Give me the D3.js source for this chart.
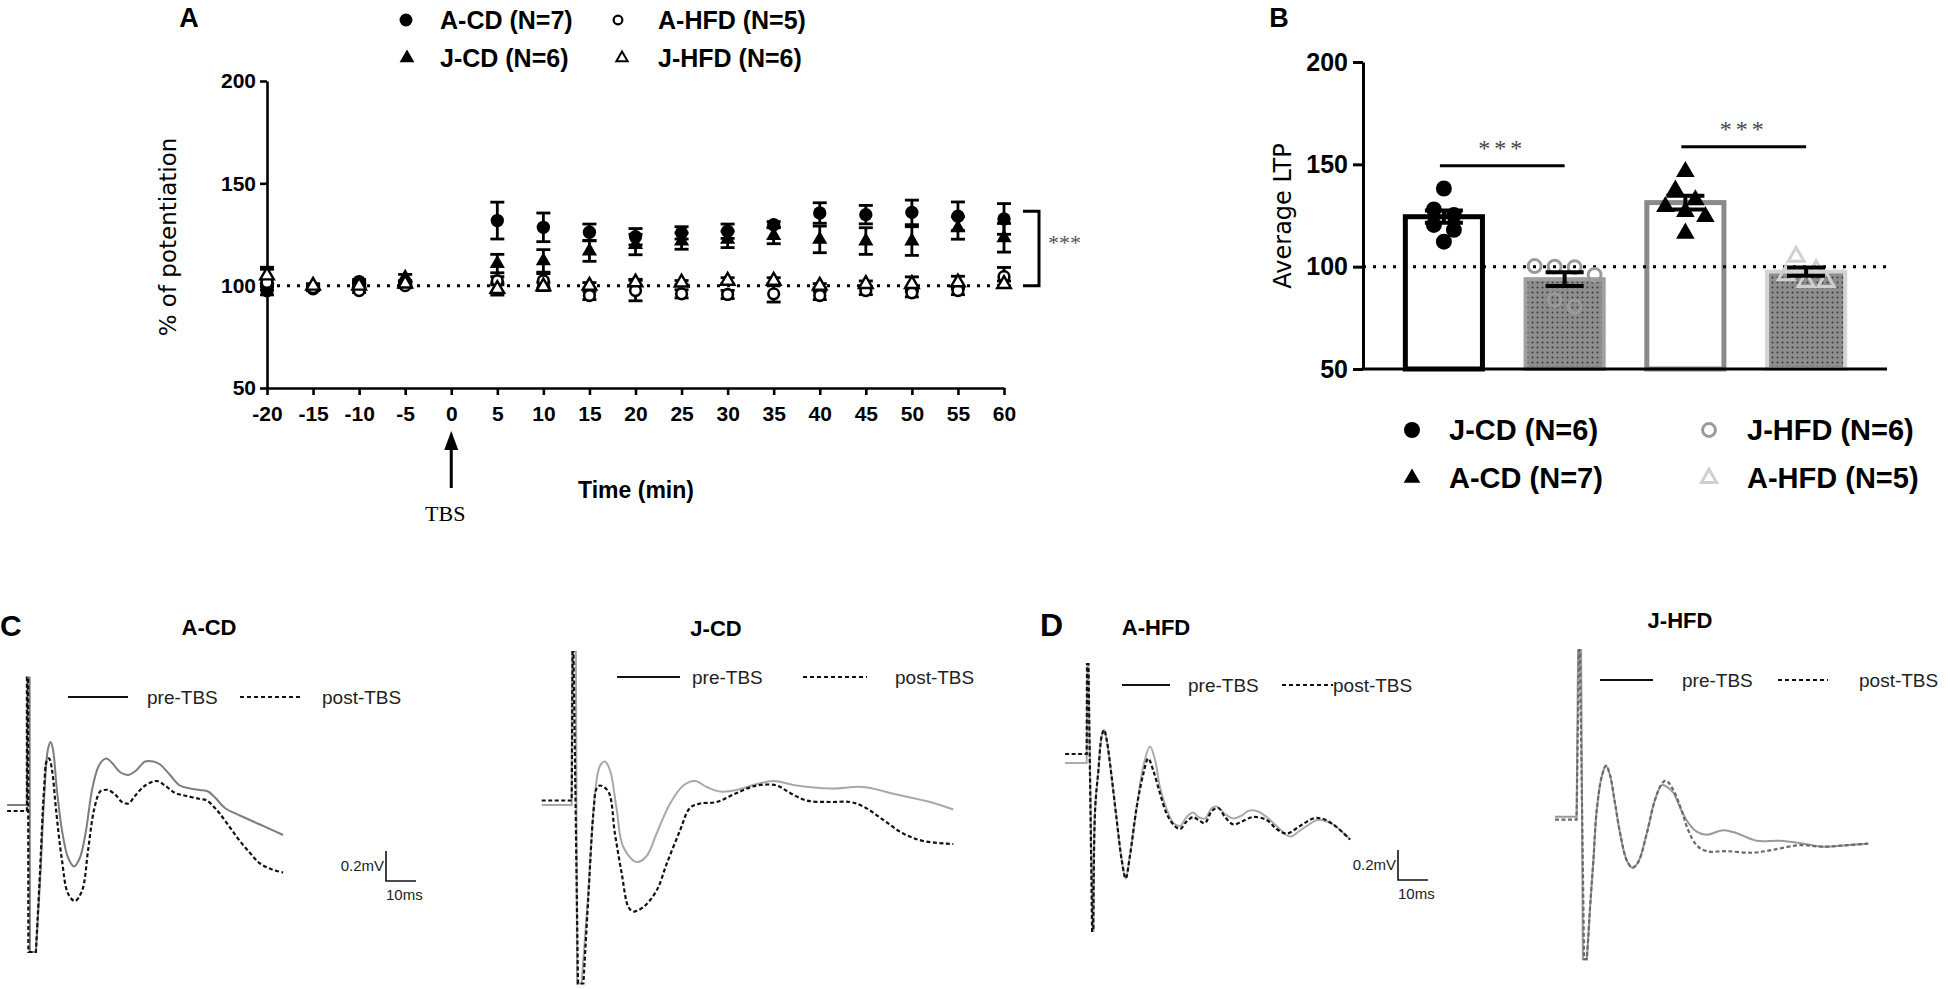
<!DOCTYPE html>
<html>
<head>
<meta charset="utf-8">
<script src="https://cdn.jsdelivr.net/npm/d3@7"></script>
<style>
  body { margin: 0; background: #fff; }
</style>
</head>
<body>
<svg id="fig" width="1950" height="989" font-family="'Liberation Sans', Arial, sans-serif"></svg>
<script>
// ---------- PANEL A : time course ----------
const timesA = [-20, -15, -10, -5, 5, 10, 15, 20, 25, 30, 35, 40, 45, 50, 55, 60];
const xTicksA = [-20, -15, -10, -5, 0, 5, 10, 15, 20, 25, 30, 35, 40, 45, 50, 55, 60];
const yTicksA = [50, 100, 150, 200];

const acdMean = [97.5, 98.5, 102, 100.5, 131.8, 128.5, 126.1, 123.9, 125.8, 126.6, 129.8, 135.5, 134.7, 135.8, 133.9, 132.6];
const acdSem  = [2, 1, 1, 1, 9, 7, 4, 4, 3, 3.5, 1.5, 5, 4.5, 6, 7, 7.5];
const jcdMean = [103, 99.5, 101, 104, 110.8, 112.1, 116.9, 120.1, 121.8, 122.6, 124.5, 122.6, 121.8, 121.8, 128.2, 123.4];
const jcdSem  = [5, 1, 1, 1.5, 4.5, 5.5, 5, 5, 4, 4, 4, 6.5, 6.5, 7, 5.5, 7];
const ahfdMean = [101.6, 99, 97.6, 100, 102.4, 102.4, 95.2, 97.6, 96, 95.7, 96, 95.2, 97.6, 96.5, 97.6, 104.4];
const ahfdSem  = [1.5, 1, 1, 1, 2, 3.5, 2, 5, 2, 2, 4, 2, 2, 2, 2, 4.5];
const jhfdMean = [105, 100, 100, 101, 98.4, 99.6, 100, 101.6, 101.5, 102.4, 102.4, 100, 100.8, 100.8, 101.6, 100.8];
const jhfdSem  = [4, 1, 1, 1, 3, 2, 1.5, 1.5, 1, 1.5, 1.5, 1, 1.5, 3.5, 3, 1.5];

const legendA = ["A-CD (N=7)", "A-HFD (N=5)", "J-CD (N=6)", "J-HFD (N=6)"];

// ---------- PANEL B : average LTP ----------
const groupsB = ["J-CD", "J-HFD", "A-CD", "A-HFD"];
const ltpMean = [124.4, 93.9, 131.3, 97.6];
const ltpSem  = [3.0, 3.4, 3.4, 2.0];
const jcdPts  = [138.2, 128, 125.2, 120.4, 118, 112.2];
const jhfdPts = [100.3, 100, 99.8, 96, 83.8, 80.5];
const acdPts  = [146.4, 137.4, 132.6, 129.3, 126.9, 124.4, 116.3];
const ahfdPts = [104.9, 98.4, 95.9, 92.6, 92.6];
const sigPairs = [[0, 1], [2, 3]];
const sigLevels = [149.3, 158.6];
const legendB = ["J-CD (N=6)", "J-HFD (N=6)", "A-CD (N=7)", "A-HFD (N=5)"];

// ---------- PANELS C / D : fEPSP traces [ms, mV] ----------
const acdPre = [[-7.3,0],[-0.7,0],[-0.5,0.85],[0.2,0.85],[0.3,-0.98],[2.3,-0.98],[3.7,-0.5],[5,0.03],[6.3,0.37],[7.2,0.42],[8,0.37],[9.3,0.1],[11,-0.17],[13,-0.35],[15,-0.41],[17,-0.35],[19,-0.17],[21,0.1],[23,0.25],[24.7,0.3],[25.9,0.31],[27.7,0.28],[30.3,0.22],[33.1,0.2],[35.7,0.23],[38.7,0.29],[41.4,0.29],[43.7,0.27],[47,0.2],[50.3,0.13],[53.7,0.11],[57,0.1],[59.7,0.09],[62,0.05],[65.3,-0.02],[70.3,-0.07],[77,-0.13],[84.7,-0.2]];
const acdPost = [[-7.3,-0.04],[-0.7,-0.04],[-0.7,0.85],[-0.3,0.85],[-0.2,-0.98],[2.3,-0.98],[3.7,-0.43],[5,0.1],[6,0.3],[6.7,0.31],[7.7,0.23],[9,-0.03],[11,-0.37],[13,-0.59],[15.3,-0.64],[17.7,-0.57],[19.7,-0.3],[21.7,-0.03],[23.7,0.09],[25,0.1],[26.4,0.1],[28.7,0.07],[31,0.02],[33.1,0.01],[35.3,0.06],[38.7,0.13],[42.6,0.16],[45.3,0.13],[48.7,0.08],[52.6,0.06],[57,0.04],[59.3,0.03],[62,-0.02],[63.7,-0.06],[67,-0.15],[70.3,-0.24],[73.7,-0.32],[77,-0.39],[81,-0.43],[84.7,-0.45]];
const jcdPre = [[-11.1,0],[-1.1,0],[-1,1.02],[0.3,1.02],[0.7,-1.19],[2.2,-1.19],[4.4,-0.59],[6.7,0.08],[8.3,0.26],[10,0.29],[11.7,0.23],[13.9,-0.03],[16.1,-0.28],[20.6,-0.38],[23.9,-0.34],[27.2,-0.19],[31.7,0.01],[36.1,0.13],[40,0.16],[43.9,0.12],[48.3,0.09],[53.9,0.1],[60.6,0.14],[66.1,0.16],[73.9,0.13],[85,0.11],[96.1,0.12],[107.2,0.07],[118.3,0.02],[126.1,-0.03]];
const jcdPost = [[-11.1,0.03],[-1.1,0.03],[-0.8,1.02],[-0.5,1.02],[1,-1.19],[2.8,-1.19],[4.4,-0.63],[6.1,-0.06],[7.2,0.11],[8.3,0.13],[11.1,0.09],[13.3,-0.19],[15.6,-0.46],[17.8,-0.68],[19.4,-0.71],[22.8,-0.68],[27.2,-0.57],[30.6,-0.39],[35,-0.17],[38.3,-0.02],[41.7,0.01],[47.2,0.02],[53.9,0.08],[60.6,0.13],[67.2,0.13],[71.7,0.08],[77.2,0.03],[85,0.02],[91.7,0.02],[96.1,-0.01],[102.8,-0.1],[109.4,-0.19],[116.1,-0.24],[126.1,-0.26]];
const ahfdPre = [[-8.3,0],[-1.1,0],[-0.9,0.66],[-0.6,0.66],[0.9,-1.12],[1.2,-1.12],[1.7,-0.31],[2.8,-0.05],[3.9,0.18],[4.7,0.22],[5.6,0.15],[7.2,-0.09],[8.9,-0.38],[10.6,-0.65],[11.9,-0.77],[13.3,-0.62],[15.6,-0.29],[17.8,-0.02],[20,0.11],[21.7,0.02],[23.3,-0.16],[25.6,-0.31],[27.8,-0.4],[30,-0.42],[32.2,-0.36],[34.4,-0.33],[36.1,-0.36],[38.3,-0.37],[40.6,-0.3],[42.2,-0.29],[45,-0.34],[47.8,-0.37],[50.6,-0.35],[52.7,-0.32],[55.6,-0.32],[58.9,-0.36],[62.2,-0.42],[66.7,-0.49],[70,-0.45],[75.6,-0.38],[77.2,-0.38],[81.1,-0.41],[86.7,-0.51]];
const ahfdPost = [[-8.3,0.06],[-1.1,0.06],[-1,0.66],[-0.5,0.66],[0.7,-1.12],[1.1,-1.12],[1.7,-0.31],[2.8,-0.05],[3.9,0.18],[4.7,0.22],[5.6,0.15],[7.2,-0.09],[8.9,-0.38],[10.6,-0.65],[11.9,-0.77],[13.3,-0.62],[15.6,-0.29],[17.8,-0.07],[19.4,0.03],[21.1,-0.05],[23.3,-0.2],[25.6,-0.34],[27.8,-0.41],[30,-0.44],[32.2,-0.39],[34.4,-0.36],[36.1,-0.38],[38.3,-0.4],[40.6,-0.32],[42.8,-0.3],[45,-0.36],[47.8,-0.41],[50.6,-0.39],[54.4,-0.36],[58.9,-0.38],[62.2,-0.44],[65.6,-0.47],[70,-0.42],[74.4,-0.37],[77.2,-0.37],[81.1,-0.41],[86.7,-0.51]];
const jhfdPre = [[-9,0],[-1.8,0],[-1.3,1.11],[-0.3,1.11],[0.3,-0.95],[1.6,-0.95],[2.1,-0.8],[2.7,-0.6],[3.8,-0.29],[4.9,0.04],[6.6,0.27],[8,0.34],[9.3,0.28],[11,0.09],[12.7,-0.11],[14.9,-0.29],[16.8,-0.34],[18.8,-0.3],[21.6,-0.11],[24.3,0.11],[26.6,0.21],[28.2,0.2],[30.4,0.16],[33.2,0.04],[35.4,-0.04],[38.2,-0.1],[41.6,-0.12],[47.1,-0.09],[51.6,-0.11],[58.2,-0.16],[66,-0.16],[73.8,-0.18],[80.4,-0.2],[88.2,-0.19],[95.4,-0.18]];
const jhfdPost = [[-9,-0.02],[-1.8,-0.02],[-1,1.11],[-0.7,1.11],[0.7,-0.95],[1.6,-0.95],[2.1,-0.8],[2.7,-0.6],[3.8,-0.29],[4.9,0.04],[6.6,0.27],[8,0.34],[9.3,0.28],[11,0.09],[12.7,-0.11],[14.9,-0.29],[16.8,-0.34],[18.8,-0.3],[21.6,-0.11],[24.3,0.11],[26.6,0.22],[28,0.24],[30.4,0.18],[33.2,0.04],[35.4,-0.09],[38.2,-0.19],[41.6,-0.23],[48.2,-0.23],[57.1,-0.24],[63.8,-0.22],[72.7,-0.19],[80.4,-0.2],[88.2,-0.19],[95.4,-0.18]];
const traceTitles = ["A-CD", "J-CD", "A-HFD", "J-HFD"];
const scaleBarMV = 0.2, scaleBarMS = 10;

const SANS = "'Liberation Sans', Arial, sans-serif";
const SERIF = "'Liberation Serif', 'Times New Roman', serif";
const DEJAVU = "'DejaVu Sans', Verdana, sans-serif";

const svg = d3.select("#fig");

// -----------------------------
//  PANEL A
// -----------------------------
const xA = d3.scaleLinear().domain([-20, 60]).range([267, 1004]);
const yA = d3.scaleLinear().domain([50, 200]).range([388, 81]);
const gA = svg.append("g");

gA.append("text").attr("x", 189).attr("y", 27).attr("text-anchor", "middle")
  .attr("font-size", 27).attr("font-weight", "bold").text("A");

const axA = gA.append("g").attr("transform", "translate(267,0)")
  .call(d3.axisLeft(yA).tickValues(yTicksA).tickSize(7).tickPadding(4).tickSizeOuter(0));
const axXA = gA.append("g").attr("transform", "translate(0,388)")
  .call(d3.axisBottom(xA).tickValues(xTicksA).tickFormat(d => String(d))
    .tickSize(7).tickPadding(11).tickSizeOuter(0));
[axA, axXA].forEach(a => {
  a.attr("font-family", SANS);
  a.selectAll("path,line").attr("stroke", "#000").attr("stroke-width", 2.6);
  a.selectAll("text").attr("font-size", 21).attr("font-weight", "bold").attr("fill", "#000");
});

gA.append("text").attr("transform", "translate(176,237) rotate(-90)")
  .attr("text-anchor", "middle").attr("font-size", 23)
  .attr("font-family", DEJAVU).text("% of potentiation");
gA.append("text").attr("x", 636).attr("y", 498).attr("text-anchor", "middle")
  .attr("font-size", 23).attr("font-weight", "bold").text("Time (min)");

// TBS arrow
gA.append("line").attr("x1", xA(0)).attr("x2", xA(0)).attr("y1", 488).attr("y2", 445)
  .attr("stroke", "#000").attr("stroke-width", 3);
gA.append("path").attr("d", `M${xA(0)},431 L${xA(0) - 7},450 L${xA(0) + 7},450 Z`).attr("fill", "#000");
gA.append("text").attr("x", xA(0) - 6).attr("y", 521).attr("text-anchor", "middle")
  .attr("font-size", 22).attr("font-family", SERIF).text("TBS");

// baseline 100%
gA.append("line").attr("x1", xA(-20)).attr("x2", xA(60)).attr("y1", yA(100)).attr("y2", yA(100))
  .attr("stroke", "#000").attr("stroke-width", 3).attr("stroke-dasharray", "3,7");

const seriesA = [
  { mean: acdMean, sem: acdSem, sym: d3.symbolCircle, size: 140, fill: "#000", sw: 0 },
  { mean: jcdMean, sem: jcdSem, sym: d3.symbolTriangle, size: 100, fill: "#000", sw: 0 },
  { mean: ahfdMean, sem: ahfdSem, sym: d3.symbolCircle, size: 90, fill: "#fff", sw: 2.6 },
  { mean: jhfdMean, sem: jhfdSem, sym: d3.symbolTriangle, size: 80, fill: "#fff", sw: 2.4 }
];
seriesA.forEach(s => {
  const eb = gA.append("g").attr("stroke", "#000").attr("stroke-width", 2.8);
  timesA.forEach((t, i) => {
    const x = xA(t), y1 = yA(s.mean[i] - s.sem[i]), y2 = yA(s.mean[i] + s.sem[i]);
    eb.append("line").attr("x1", x).attr("x2", x).attr("y1", y1).attr("y2", y2);
    eb.append("line").attr("x1", x - 7).attr("x2", x + 7).attr("y1", y1).attr("y2", y1);
    eb.append("line").attr("x1", x - 7).attr("x2", x + 7).attr("y1", y2).attr("y2", y2);
  });
});
seriesA.forEach(s => {
  gA.append("g").selectAll("path").data(timesA).join("path")
    .attr("transform", (t, i) => `translate(${xA(t)},${yA(s.mean[i])})`)
    .attr("d", d3.symbol(s.sym, s.size))
    .attr("fill", s.fill).attr("stroke", "#000").attr("stroke-width", s.sw);
});

// significance bracket
const lastI = acdMean.length - 1;
const brTop = yA(acdMean[lastI] + acdSem[lastI] / 2), brBot = yA(100);
gA.append("path").attr("d", `M1023,${brTop} H1039 V${brBot} H1023`)
  .attr("fill", "none").attr("stroke", "#000").attr("stroke-width", 3);
gA.append("text").attr("x", 1048).attr("y", (brTop + brBot) / 2 + 2)
  .attr("font-size", 22).attr("fill", "#555")
  .attr("font-family", SERIF).text("***");

// legend A
const legA = [
  { x: 406, y: 20, sym: d3.symbolCircle, size: 130, fill: "#000", sw: 0 },
  { x: 618, y: 20, sym: d3.symbolCircle, size: 60, fill: "#fff", sw: 2.2 },
  { x: 407, y: 58, sym: d3.symbolTriangle, size: 95, fill: "#000", sw: 0 },
  { x: 622, y: 58, sym: d3.symbolTriangle, size: 55, fill: "#fff", sw: 2 }
];
legA.forEach((d, i) => {
  gA.append("path").attr("transform", `translate(${d.x},${d.y})`)
    .attr("d", d3.symbol(d.sym, d.size)).attr("fill", d.fill).attr("stroke", "#000").attr("stroke-width", d.sw);
  gA.append("text").attr("x", i % 2 ? 658 : 440).attr("y", d.y + 9)
    .attr("font-size", 25).attr("font-weight", "bold").text(legendA[i]);
});

// -----------------------------
//  PANEL B
// -----------------------------
const gB = svg.append("g");
const xB = d3.scaleBand().domain(groupsB).range([1363, 1887]).paddingInner(0.32).paddingOuter(0.33);
const yB = d3.scaleLinear().domain([50, 200]).range([369, 62]);

gB.append("text").attr("x", 1279).attr("y", 27).attr("text-anchor", "middle")
  .attr("font-size", 27).attr("font-weight", "bold").text("B");

const defs = svg.append("defs");
const pat = defs.append("pattern").attr("id", "dots").attr("width", 5).attr("height", 5)
  .attr("patternUnits", "userSpaceOnUse");
pat.append("rect").attr("width", 5).attr("height", 5).attr("fill", "#8e8e8e");
pat.append("circle").attr("cx", 2.5).attr("cy", 2.5).attr("r", 1).attr("fill", "#3a3a3a");

const barStyle = [
  { fill: "#fff", stroke: "#000", sw: 5 },
  { fill: "url(#dots)", stroke: "#a0a0a0", sw: 4 },
  { fill: "#fff", stroke: "#8a8a8a", sw: 5 },
  { fill: "url(#dots)", stroke: "#d4d4d4", sw: 4 }
];
groupsB.forEach((g, i) => {
  const st = barStyle[i];
  gB.append("rect").attr("x", xB(g) + st.sw / 2).attr("y", yB(ltpMean[i]))
    .attr("width", xB.bandwidth() - st.sw).attr("height", yB(50) - yB(ltpMean[i]))
    .attr("fill", st.fill).attr("stroke", st.stroke).attr("stroke-width", st.sw);
});

gB.append("line").attr("x1", 1363).attr("x2", 1887).attr("y1", yB(100)).attr("y2", yB(100))
  .attr("stroke", "#000").attr("stroke-width", 3).attr("stroke-dasharray", "3,7");

// scatter points (binned dodge)
function dodge(vals, cx) {
  const sorted = vals.slice().sort((a, b) => b - a);
  const out = [];
  let bin = [];
  const flush = () => {
    bin.forEach((v, k) => out.push({ v, x: cx + (k - (bin.length - 1) / 2) * 20 }));
    bin = [];
  };
  sorted.forEach(v => {
    if (bin.length && yB(v) - yB(bin[0]) > 14) flush();
    bin.push(v);
  });
  flush();
  return out;
}
const ptStyle = [
  { pts: jcdPts, sym: d3.symbolCircle, size: 200, fill: "#000", stroke: "#000", sw: 0 },
  { pts: jhfdPts, sym: d3.symbolCircle, size: 130, fill: "none", stroke: "#9a9a9a", sw: 3 },
  { pts: acdPts, sym: d3.symbolTriangle, size: 150, fill: "#000", stroke: "#000", sw: 0 },
  { pts: ahfdPts, sym: d3.symbolTriangle, size: 110, fill: "none", stroke: "#d0d0d0", sw: 3 }
];
groupsB.forEach((g, i) => {
  const st = ptStyle[i];
  const cx = xB(g) + xB.bandwidth() / 2;
  gB.append("g").selectAll("path").data(dodge(st.pts, cx)).join("path")
    .attr("transform", d => `translate(${d.x},${yB(d.v)})`)
    .attr("d", d3.symbol(st.sym, st.size))
    .attr("fill", st.fill).attr("stroke", st.stroke).attr("stroke-width", st.sw);
});

// error bars
groupsB.forEach((g, i) => {
  const cx = xB(g) + xB.bandwidth() / 2;
  const lo = yB(ltpMean[i] - ltpSem[i]), hi = yB(ltpMean[i] + ltpSem[i]);
  const eb = gB.append("g").attr("stroke", "#000").attr("stroke-width", 4);
  eb.append("line").attr("x1", cx).attr("x2", cx).attr("y1", lo).attr("y2", hi);
  eb.append("line").attr("x1", cx - 19).attr("x2", cx + 19).attr("y1", lo).attr("y2", lo);
  eb.append("line").attr("x1", cx - 19).attr("x2", cx + 19).attr("y1", hi).attr("y2", hi);
});

// axes B
const axB = gB.append("g").attr("transform", "translate(1363,0)")
  .call(d3.axisLeft(yB).tickValues(yTicksA).tickSize(10).tickPadding(5).tickSizeOuter(0));
axB.attr("font-family", SANS);
axB.selectAll("path,line").attr("stroke", "#000").attr("stroke-width", 3);
axB.selectAll("text").attr("font-size", 25).attr("font-weight", "bold").attr("fill", "#000");
gB.append("line").attr("x1", 1361.5).attr("x2", 1887).attr("y1", yB(50)).attr("y2", yB(50))
  .attr("stroke", "#000").attr("stroke-width", 3);
gB.append("text").attr("transform", "translate(1291,216) rotate(-90)")
  .attr("text-anchor", "middle").attr("font-size", 24)
  .attr("font-family", DEJAVU).text("Average LTP");

// significance lines
sigPairs.forEach((p, k) => {
  const x1 = xB(groupsB[p[0]]) + xB.bandwidth() / 2 - 4, x2 = xB(groupsB[p[1]]) + xB.bandwidth() / 2;
  const y = yB(sigLevels[k]);
  gB.append("line").attr("x1", x1).attr("x2", x2).attr("y1", y).attr("y2", y)
    .attr("stroke", "#000").attr("stroke-width", 3);
  gB.append("text").attr("x", (x1 + x2) / 2).attr("y", y - 10).attr("text-anchor", "middle")
    .attr("font-size", 24).attr("fill", "#444").attr("letter-spacing", 4)
    .attr("font-family", SERIF).text("***");
});

// legend B
const legB = [
  { x: 1412, y: 430, sym: d3.symbolCircle, size: 200, fill: "#000", stroke: "#000", sw: 0, tx: 1449 },
  { x: 1709, y: 430, sym: d3.symbolCircle, size: 130, fill: "none", stroke: "#9a9a9a", sw: 3, tx: 1747 },
  { x: 1412, y: 478, sym: d3.symbolTriangle, size: 120, fill: "#000", stroke: "#000", sw: 0, tx: 1449 },
  { x: 1709, y: 478, sym: d3.symbolTriangle, size: 100, fill: "none", stroke: "#d0d0d0", sw: 3, tx: 1747 }
];
legB.forEach((d, i) => {
  gB.append("path").attr("transform", `translate(${d.x},${d.y})`)
    .attr("d", d3.symbol(d.sym, d.size)).attr("fill", d.fill).attr("stroke", d.stroke).attr("stroke-width", d.sw);
  gB.append("text").attr("x", d.tx).attr("y", d.y + 10)
    .attr("font-size", 29).attr("font-weight", "bold").text(legendB[i]);
});

// -----------------------------
//  PANELS C / D : traces
// -----------------------------
svg.append("text").attr("x", 0).attr("y", 636).attr("font-size", 30).attr("font-weight", "bold").text("C");
svg.append("text").attr("x", 1040).attr("y", 636).attr("font-size", 32).attr("font-weight", "bold").text("D");

const tracePanels = [
  { pre: acdPre, post: acdPost, x0: 29, y0: 805, title: 209, ty: 635, preCol: "#7d7d7d", postCol: "#111",
    leg: { y: 697, l1: 68, l2: 128, t1: 147, d1: 240, d2: 300, t2: 322 }, bar: { x: 386, y: 881 } },
  { pre: jcdPre, post: jcdPost, x0: 575, y0: 805, title: 716, ty: 636, preCol: "#a8a8a8", postCol: "#111",
    leg: { y: 677, l1: 617, l2: 680, t1: 692, d1: 803, d2: 867, t2: 895 }, bar: null },
  { pre: ahfdPre, post: ahfdPost, x0: 1090, y0: 763, title: 1156, ty: 635, preCol: "#ababab", postCol: "#111",
    leg: { y: 685, l1: 1122, l2: 1170, t1: 1188, d1: 1282, d2: 1333, t2: 1333 }, bar: { x: 1398, y: 880 } },
  { pre: jhfdPre, post: jhfdPost, x0: 1582, y0: 816.7, title: 1680, ty: 628, preCol: "#9a9a9a", postCol: "#6a6a6a",
    leg: { y: 680, l1: 1600, l2: 1653, t1: 1682, d1: 1778, d2: 1828, t2: 1859 }, bar: null }
];

tracePanels.forEach((p, i) => {
  const g = svg.append("g");
  const xs = d3.scaleLinear().domain([0, 10]).range([p.x0, p.x0 + 30]);
  const ys = d3.scaleLinear().domain([0, 0.2]).range([p.y0, p.y0 - 30]);
  // stimulus artifact drawn straight, the response smooth
  const straight = d3.line().x(d => xs(d[0])).y(d => ys(d[1]));
  const smooth = d3.line().x(d => xs(d[0])).y(d => ys(d[1])).curve(d3.curveCatmullRom.alpha(0.5));
  const tracePath = pts => straight(pts.slice(0, 6)) + smooth(pts.slice(5)).replace(/^M/, "L");

  g.append("path").attr("d", tracePath(p.pre)).attr("fill", "none")
    .attr("stroke", p.preCol).attr("stroke-width", 2);
  g.append("path").attr("d", tracePath(p.post)).attr("fill", "none")
    .attr("stroke", p.postCol).attr("stroke-width", 2.2).attr("stroke-dasharray", "4,2.5");

  g.append("text").attr("x", p.title).attr("y", p.ty).attr("text-anchor", "middle")
    .attr("font-size", 22).attr("font-weight", "bold").text(traceTitles[i]);

  const L = p.leg;
  g.append("line").attr("x1", L.l1).attr("x2", L.l2).attr("y1", L.y).attr("y2", L.y)
    .attr("stroke", "#111").attr("stroke-width", 1.8);
  g.append("line").attr("x1", L.d1).attr("x2", L.d2).attr("y1", L.y).attr("y2", L.y)
    .attr("stroke", "#111").attr("stroke-width", 1.8).attr("stroke-dasharray", "4,3");
  g.append("text").attr("x", L.t1).attr("y", L.y + 7).attr("font-size", 19).attr("fill", "#222").text("pre-TBS");
  g.append("text").attr("x", L.t2).attr("y", L.y + 7).attr("font-size", 19).attr("fill", "#222").text("post-TBS");

  if (p.bar) {
    const bx = p.bar.x, by = p.bar.y;
    const hLen = xs(scaleBarMS) - xs(0), vLen = ys(0) - ys(scaleBarMV);
    g.append("path").attr("d", `M${bx},${by - vLen} V${by} H${bx + hLen}`)
      .attr("fill", "none").attr("stroke", "#111").attr("stroke-width", 1.6);
    g.append("text").attr("x", bx - 2).attr("y", by - vLen / 2 + 5).attr("text-anchor", "end")
      .attr("font-size", 15).attr("fill", "#222").text(scaleBarMV + "mV");
    g.append("text").attr("x", bx).attr("y", by + 19).attr("font-size", 15).attr("fill", "#222")
      .text(scaleBarMS + "ms");
  }
});
</script>
</body>
</html>
